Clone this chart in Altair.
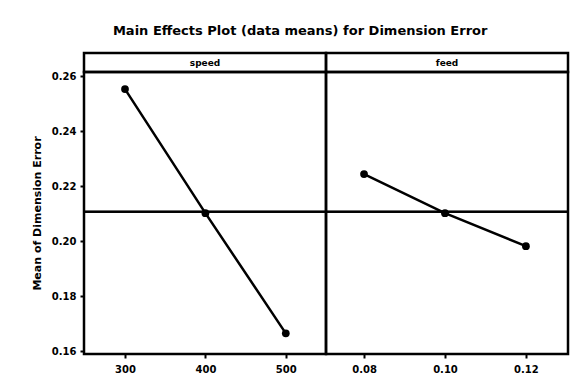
import altair as alt
import pandas as pd
import numpy as np

# Data
speed_levels = [300, 400, 500]
speed_means = [0.2553, 0.2102, 0.1665]
feed_levels = [0.08, 0.10, 0.12]
feed_means = [0.2244, 0.2102, 0.1982]
y_ticks = [0.16, 0.18, 0.20, 0.22, 0.24, 0.26]

title_text = "Main Effects Plot (data means) for Dimension Error"
y_title = "Mean of Dimension Error"

grand_mean = float(np.mean(speed_means))

FONT = "DejaVu Sans"
PW, PH, HH = 242, 282, 19


def plot(levels, means, xdomain, show_y):
    df = pd.DataFrame({"level": levels, "mean": means, "gm": [grand_mean] * len(levels)})
    base = alt.Chart(df)
    if show_y:
        yaxis = alt.Axis(values=y_ticks, format=".2f", title=y_title, grid=False,
                         tickSize=4, tickWidth=2, domain=False, labelPadding=4,
                         titlePadding=9)
    else:
        yaxis = alt.Axis(values=y_ticks, labels=False, ticks=False, title=None,
                         grid=False, domain=False)
    x = alt.X("level:Q", scale=alt.Scale(domain=xdomain, nice=False, zero=False),
              axis=alt.Axis(values=levels, title=None, grid=False,
                            tickSize=4, tickWidth=2, domain=False, labelPadding=6))
    y = alt.Y("mean:Q", scale=alt.Scale(domain=[0.159, 0.2615], nice=False, zero=False),
              axis=yaxis)
    line = base.mark_line(color="black", strokeWidth=2.5).encode(x=x, y=y)
    pts = base.mark_circle(color="black", size=60, opacity=1).encode(x=x, y=y)
    ref = base.mark_rule(color="black", strokeWidth=2).encode(y=alt.Y("gm:Q"))
    return alt.layer(line, pts, ref).properties(width=PW, height=PH)


def header(name):
    return alt.Chart(pd.DataFrame({"t": [name]})).mark_text(
        font=FONT, fontWeight="bold", fontSize=9, color="black").encode(
        x=alt.value(PW / 2), y=alt.value(HH / 2), text="t:N"
    ).properties(width=PW, height=HH)


chart = alt.concat(
    header("speed"), header("feed"),
    plot(speed_levels, speed_means, [249, 550], True),
    plot(feed_levels, feed_means, [0.0706, 0.1304], False),
    columns=2, spacing=0, bounds="flush", align="each",
).properties(
    title=alt.TitleParams(title_text, font=FONT, fontWeight="bold", fontSize=13,
                          anchor="middle", offset=14),
    padding={"left": 22, "top": 16, "right": 5, "bottom": 5},
).configure_view(stroke="black", strokeWidth=2.5).configure_axis(
    labelFont=FONT, labelFontWeight="bold", labelFontSize=10, labelColor="black",
    titleFont=FONT, titleFontWeight="bold", titleFontSize=11, titleColor="black",
    tickColor="black"
)

chart.save("out.html", embed_options={"renderer": "svg", "actions": False})
